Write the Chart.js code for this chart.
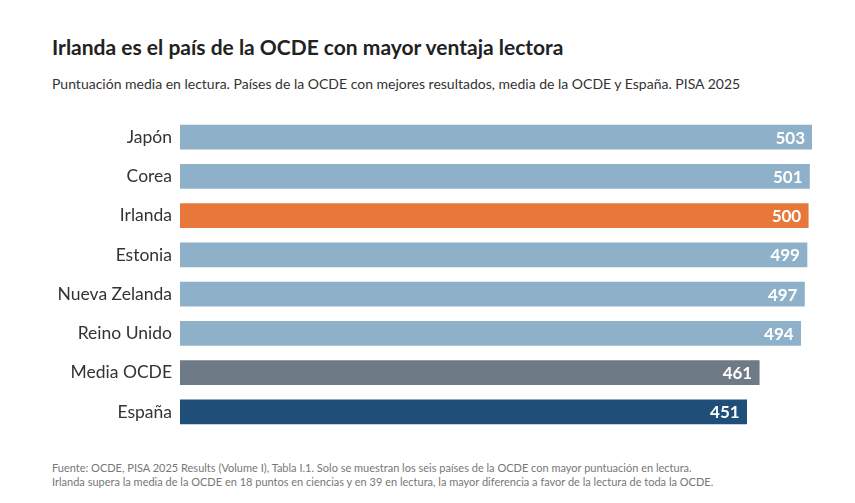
<!DOCTYPE html>
<html><head><meta charset="utf-8">
<script src="https://cdn.jsdelivr.net/npm/chart.js@4"></script>
<style>
body{margin:0;width:855px;height:503px;background:#fff;font-family:Lato,sans-serif;position:relative;overflow:hidden}
#t{position:absolute;left:52px;top:34px;font-size:21px;font-weight:bold;color:#222}
#s{position:absolute;left:52px;top:75px;font-size:14px;color:#333}
#f{position:absolute;left:52px;top:461px;font-size:11px;color:#777;line-height:14px}
#w{position:absolute;left:0;top:107px;width:855px;height:335px}
</style></head><body>
<div id="t">Irlanda es el país de la OCDE con mayor ventaja lectora</div>
<div id="s">Puntuación media en lectura. Países de la OCDE con mejores resultados, media de la OCDE y España. PISA 2025</div>
<div id="w"><canvas id="c"></canvas></div>
<div id="f">Fuente: OCDE, PISA 2025 Results (Volume I), Tabla I.1. Solo se muestran los seis países de la OCDE con mayor puntuación en lectura.<br>Irlanda supera la media de la OCDE en 18 puntos en ciencias y en 39 en lectura, la mayor diferencia a favor de la lectura de toda la OCDE.</div>
<script>
const categories=["Japón","Corea","Irlanda","Estonia","Nueva Zelanda","Reino Unido","Media OCDE","España"];
const scores=[503,501,500,499,497,494,461,451];
const barColors=["#8fb0c9","#8fb0c9","#e8773a","#8fb0c9","#8fb0c9","#8fb0c9","#6e7a85","#1f4e79"];
const labelsPlugin={id:"lbl",afterDatasetsDraw(ch){const ctx=ch.ctx;ctx.save();ctx.font="bold 17px Lato";ctx.fillStyle="#fff";ctx.textAlign="right";ctx.textBaseline="middle";
ch.getDatasetMeta(0).data.forEach((b,i)=>ctx.fillText(scores[i],b.x-7,b.y+1));ctx.restore();}};
new Chart(document.getElementById("c"),{type:"bar",data:{labels:categories,datasets:[{data:scores,backgroundColor:barColors,barThickness:24}]},
options:{indexAxis:"y",responsive:true,maintainAspectRatio:false,animation:false,
layout:{padding:{left:0,right:43,top:0,bottom:0}},
plugins:{legend:{display:false},tooltip:{enabled:false}},
scales:{x:{display:false,min:0,max:503},
y:{grid:{display:false},border:{display:false},ticks:{font:{family:"Lato",size:17.5},color:"#333",padding:0},afterFit(s){s.width=180;}}}},
plugins:[labelsPlugin]});
</script></body></html>
